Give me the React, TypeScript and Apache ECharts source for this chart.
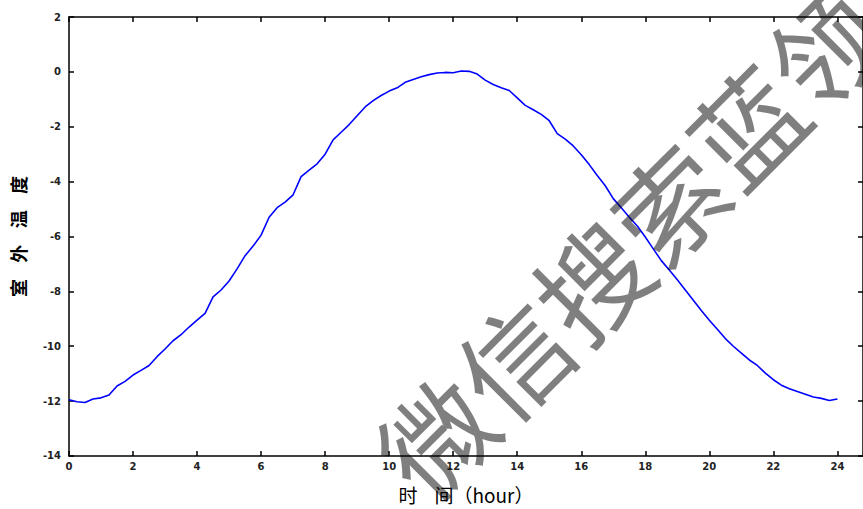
import React, { useEffect, useRef } from "react";
import * as echarts from "echarts";

const hours: number[] = [
  0, 0.25, 0.5, 0.75, 1, 1.25, 1.5, 1.75, 2, 2.25, 2.5, 2.75, 3, 3.25, 3.5, 3.75,
  4, 4.25, 4.5, 4.75, 5, 5.25, 5.5, 5.75, 6, 6.25, 6.5, 6.75, 7, 7.25, 7.5, 7.75,
  8, 8.25, 8.5, 8.75, 9, 9.25, 9.5, 9.75, 10, 10.25, 10.5, 10.75, 11, 11.25, 11.5, 11.75,
  12, 12.25, 12.5, 12.75, 13, 13.25, 13.5, 13.75, 14, 14.25, 14.5, 14.75, 15, 15.25, 15.5, 15.75,
  16, 16.25, 16.5, 16.75, 17, 17.25, 17.5, 17.75, 18, 18.25, 18.5, 18.75, 19, 19.25, 19.5, 19.75,
  20, 20.25, 20.5, 20.75, 21, 21.25, 21.5, 21.75, 22, 22.25, 22.5, 22.75, 23, 23.25, 23.5, 23.75, 24,
];

const temps: number[] = [
  -11.95, -12.02, -12.05, -11.92, -11.88, -11.78, -11.45, -11.28, -11.05, -10.88, -10.7, -10.38, -10.1, -9.8, -9.58, -9.3,
  -9.05, -8.8, -8.2, -7.95, -7.62, -7.18, -6.7, -6.35, -5.95, -5.3, -4.95, -4.75, -4.48, -3.82, -3.58, -3.35,
  -3.0, -2.48, -2.2, -1.92, -1.6, -1.28, -1.05, -0.86, -0.7, -0.58, -0.38, -0.28, -0.18, -0.1, -0.04, -0.02,
  -0.03, 0.03, 0.02, -0.08, -0.3, -0.46, -0.58, -0.68, -0.95, -1.22, -1.38, -1.55, -1.78, -2.25, -2.45, -2.7,
  -3.02, -3.38, -3.78, -4.15, -4.62, -4.95, -5.3, -5.62, -6.02, -6.45, -6.88, -7.22, -7.58, -7.95, -8.32, -8.7,
  -9.05, -9.38, -9.72, -10.0, -10.25, -10.5, -10.7, -10.98, -11.22, -11.42, -11.55, -11.65, -11.75, -11.85, -11.9, -11.98, -11.92,
];

const xTicks: number[] = [0, 2, 4, 6, 8, 10, 12, 14, 16, 18, 20, 22, 24];
const yTicks: number[] = [2, 0, -2, -4, -6, -8, -10, -12, -14];

const xName = "时    间（hour）";
const yName = "室    外    温    度";
const watermark = "微信搜索蓝领";

export default function App() {
  const ref = useRef<HTMLDivElement>(null);
  useEffect(() => {
    if (!ref.current) return;
    const chart = echarts.init(ref.current, undefined, { renderer: "svg" });
    const labelStyle = {
      fontSize: 10,
      fontWeight: "bold" as const,
      color: "#222",
      fontFamily: "DejaVu Sans",
    };
    const lineStyle = { color: "#000", width: 1.5 };
    chart.setOption({
      animation: false,
      backgroundColor: "#fff",
      grid: { left: 69, top: 17, width: 796, height: 443 },
      xAxis: [
        {
          type: "value",
          min: 0,
          max: 24.8,
          interval: 2,
          position: "bottom",
          name: xName,
          nameLocation: "middle",
          nameGap: 29,
          nameTextStyle: { fontSize: 19, color: "#000", fontFamily: "Noto Sans CJK SC" },
          axisLine: { show: true, onZero: false, lineStyle },
          axisTick: { show: true, inside: true, length: 5, lineStyle, customValues: xTicks },
          axisLabel: { ...labelStyle, margin: 6, customValues: xTicks },
          splitLine: { show: false },
        },
        {
          type: "value",
          min: 0,
          max: 24.8,
          interval: 2,
          position: "top",
          axisLine: { show: true, onZero: false, lineStyle },
          axisTick: { show: true, inside: true, length: 5, lineStyle, customValues: xTicks },
          axisLabel: { show: false },
          splitLine: { show: false },
        },
      ],
      yAxis: [
        {
          type: "value",
          min: -14,
          max: 2,
          interval: 2,
          position: "left",
          name: yName,
          nameLocation: "middle",
          nameRotate: 90,
          nameGap: 42,
          nameTextStyle: { fontSize: 18, fontWeight: "bold", color: "#000", fontFamily: "Noto Sans CJK SC" },
          axisLine: { show: true, onZero: false, lineStyle },
          axisTick: { show: true, inside: true, length: 5, lineStyle, customValues: yTicks },
          axisLabel: { ...labelStyle, margin: 8, customValues: yTicks },
          splitLine: { show: false },
        },
        {
          type: "value",
          min: -14,
          max: 2,
          interval: 2,
          position: "right",
          axisLine: { show: true, onZero: false, lineStyle },
          axisTick: { show: true, inside: true, length: 5, lineStyle, customValues: yTicks },
          axisLabel: { show: false },
          splitLine: { show: false },
        },
      ],
      series: [
        {
          type: "line",
          data: hours.map((h, i) => [h, temps[i]]),
          showSymbol: false,
          lineStyle: { color: "#0000ff", width: 1.6 },
          xAxisIndex: 0,
          yAxisIndex: 0,
          z: 2,
        },
      ],
      graphic: [
        {
          type: "text",
          x: 628,
          y: 240,
          rotation: Math.PI / 4,
          z: 100,
          style: {
            text: watermark,
            fontSize: 110,
            fontFamily: "Noto Sans CJK SC",
            fill: "rgba(0,0,0,0.5)",
            textAlign: "center",
            textVerticalAlign: "middle",
          },
        },
      ],
    });
    return () => chart.dispose();
  }, []);
  return <div ref={ref} style={{ width: 863, height: 509, position: "absolute", left: 0, top: 0 }} />;
}
